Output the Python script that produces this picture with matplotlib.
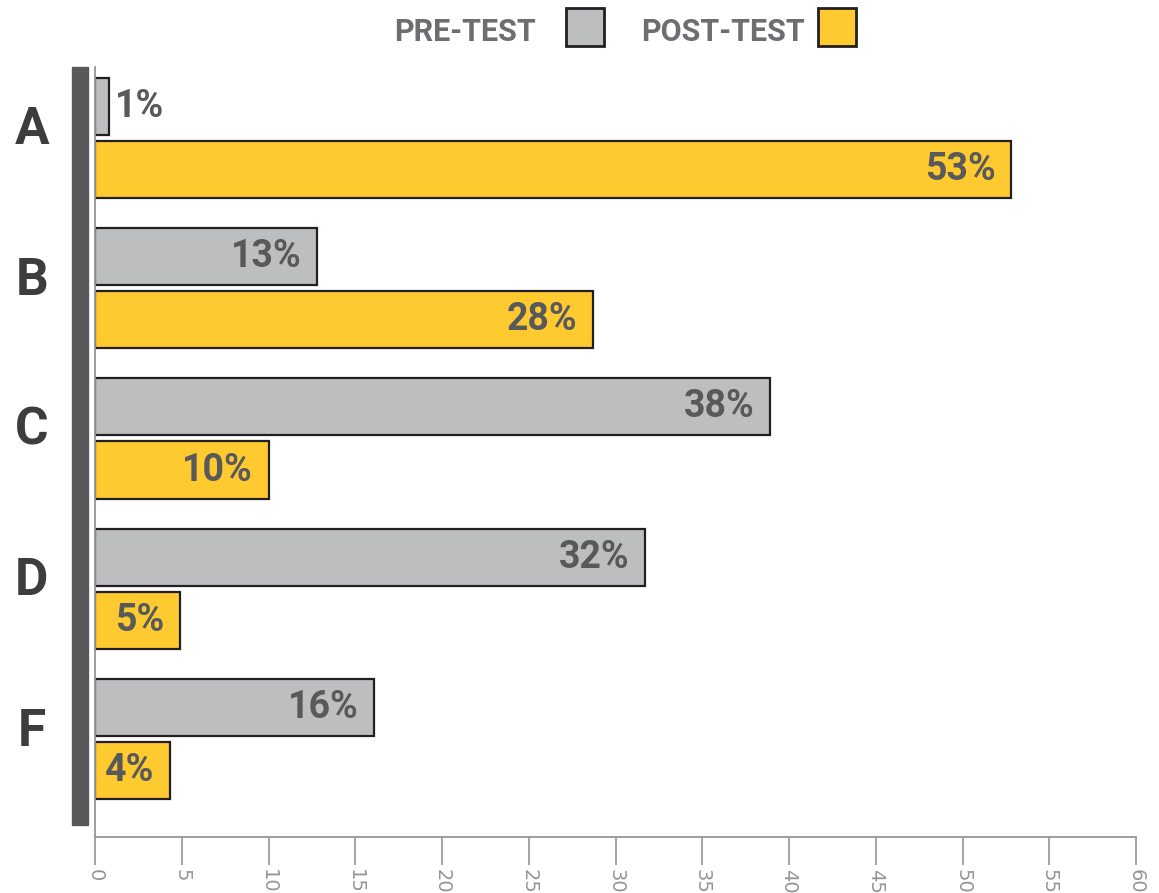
import matplotlib
matplotlib.use("Agg")

import numpy as np
import matplotlib.pyplot as plt
from matplotlib.patches import Rectangle

# Data
categories = ["A", "B", "C", "D", "F"]
pre_test = [0.8, 12.8, 38.9, 31.7, 16.1]
post_test = [52.8, 28.7, 10.0, 4.9, 4.3]
pre_labels = ["1%", "13%", "38%", "32%", "16%"]
post_labels = ["53%", "28%", "10%", "5%", "4%"]
x_ticks = list(range(0, 65, 5))

GRAY = "#bcbec0"
YELLOW = "#ffca2f"
EDGE = "#231f20"
TEXT = "#58595b"
FONT = ["Roboto", "DejaVu Sans"]

fig = plt.figure(figsize=(11.59, 8.93), dpi=100)
ax = fig.add_axes([95 / 1159, 56 / 893, 1041 / 1159, 770 / 893])

y = np.arange(len(categories))
off = 0.21
h = 0.38
ax.barh(y - off, pre_test, height=h, color=GRAY, edgecolor=EDGE, linewidth=1.6)
ax.barh(y + off, post_test, height=h, color=YELLOW, edgecolor=EDGE, linewidth=1.6)

# value labels
for i in range(len(categories)):
    for val, lab, yy in [(pre_test[i], pre_labels[i], y[i] - off),
                         (post_test[i], post_labels[i], y[i] + off)]:
        if val < 3:
            ax.text(val + 0.35, yy, lab, ha="left", va="center", fontsize=27,
                    fontweight="bold", color=TEXT, family=FONT)
        else:
            ax.text(val - 0.9, yy, lab, ha="right", va="center", fontsize=27,
                    fontweight="bold", color=TEXT, family=FONT)

ax.set_xlim(0, 60)
ax.set_ylim(4.65, -0.47)
ax.set_xticks(x_ticks)
ax.set_xticklabels([str(t) for t in x_ticks], rotation=270, fontsize=14,
                   color="#939598", va="top")
ax.tick_params(axis="x", length=20, width=1.2, color="#939598", pad=3)
ax.set_yticks([])
for s in ["top", "right"]:
    ax.spines[s].set_visible(False)
ax.spines["bottom"].set_color("#939598")
ax.spines["bottom"].set_linewidth(1.3)
ax.spines["left"].set_color("#939598")
ax.spines["left"].set_linewidth(1.3)

# category letters to the left of the dark bar
for i, c in enumerate(categories):
    ax.text(-3.65, y[i] - 0.05, c, ha="center", va="center", fontsize=37,
            fontweight="bold", color="#3d3d3f", family=FONT,
            clip_on=False)

# thick dark bar at left
fig.patches.append(Rectangle((72 / 1159, (893 - 825) / 893), 16 / 1159, 758 / 893,
                             transform=fig.transFigure, color="#58595b",
                             zorder=0))

# legend at top
fig.text(465 / 1159, 1 - 32 / 893, "PRE-TEST", ha="center", va="center",
         fontsize=22, fontweight="bold", color="#6d6e71", family=FONT)
fig.text(723 / 1159, 1 - 32 / 893, "POST-TEST", ha="center", va="center",
         fontsize=22, fontweight="bold", color="#6d6e71", family=FONT)
for x0, col in [(566, GRAY), (818, YELLOW)]:
    fig.patches.append(Rectangle((x0 / 1159, 1 - 46 / 893), 38 / 1159, 38 / 893,
                                 transform=fig.transFigure, facecolor=col,
                                 edgecolor=EDGE, linewidth=2))

fig.savefig("out.png", dpi=100)
